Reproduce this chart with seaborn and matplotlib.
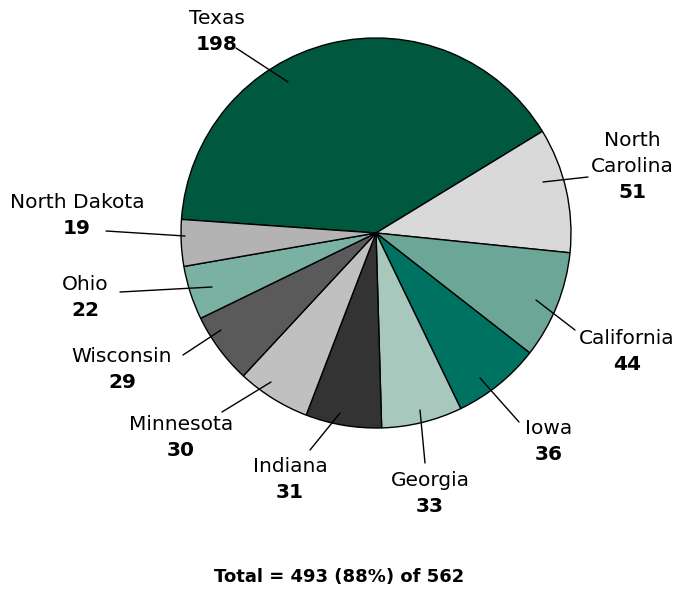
import matplotlib
matplotlib.use("Agg")
import matplotlib.pyplot as plt
import seaborn as sns

states = ["Texas", "North\nCarolina", "California", "Iowa", "Georgia",
          "Indiana", "Minnesota", "Wisconsin", "Ohio", "North Dakota"]
counts = [198, 51, 44, 36, 33, 31, 30, 29, 22, 19]
colors = ["#00583F", "#D9D9D9", "#6CA696", "#007261", "#A8C8BD",
          "#333333", "#C0C0C0", "#5A5A5A", "#7BB1A2", "#B3B3B3"]
total_text = "Total = 493 (88%) of 562"

sns.set_style("white")
plt.rcParams['font.family'] = ['DejaVu Sans']

W, H = 679, 592
fig = plt.figure(figsize=(W / 100, H / 100), dpi=100)
ax = fig.add_axes([0, 0, 1, 1])

cx, cy, r = 376, H - 233, 195
ax.pie(counts, colors=colors, startangle=176, counterclock=False,
       center=(cx, cy), radius=r, frame=True,
       wedgeprops=dict(edgecolor="black", linewidth=1.0))
ax.set_xlim(0, W)
ax.set_ylim(0, H)
ax.set_aspect("equal")
ax.axis("off")

# label text center (x, y of name line) and leader line endpoints (pixel coords, y down)
layout = [
    ((217, 18), (236, 48), (288, 82)),
    ((632, 140), (588, 177), (543, 182)),
    ((627, 338), (575, 330), (536, 300)),
    ((549, 428), (519, 422), (480, 378)),
    ((430, 480), (425, 463), (420, 410)),
    ((290, 467), (310, 450), (340, 413)),
    ((181, 425), (222, 412), (271, 382)),
    ((122, 356), (183, 355), (221, 330)),
    ((85, 284), (120, 292), (212, 287)),
    ((77, 203), (106, 231), (185, 236)),
]

fs = 14.5
lh = 26
for name, val, ((tx, ty), (lx0, ly0), (lx1, ly1)) in zip(states, counts, layout):
    lines = name.split("\n")
    for i, ln in enumerate(lines):
        ax.text(tx, H - (ty + i * lh), ln, ha="center", va="center",
                fontsize=fs, color="black")
    ax.text(tx, H - (ty + len(lines) * lh), str(val), ha="center", va="center",
            fontsize=fs, fontweight="bold", color="black")
    ax.plot([lx0, lx1], [H - ly0, H - ly1], color="black", lw=1.0)

ax.text(339, H - 577, total_text, ha="center", va="center", fontsize=13,
        fontweight="bold", color="black")

fig.savefig("out.png", dpi=100)
